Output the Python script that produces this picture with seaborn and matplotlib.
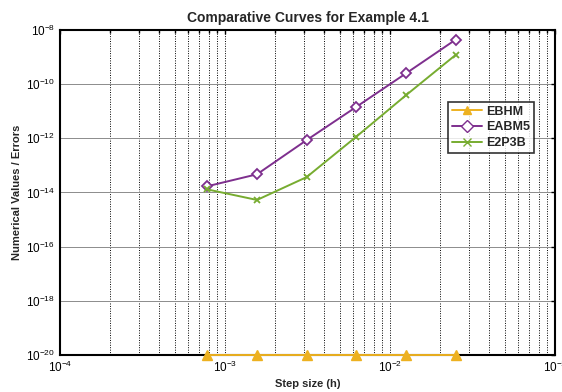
import numpy as np
import pandas as pd
import matplotlib
matplotlib.use("Agg")
import matplotlib.pyplot as plt
import seaborn as sns
from matplotlib.ticker import LogLocator, FixedLocator, NullFormatter
from matplotlib.lines import Line2D

# ---- data ----
step_sizes = [7.8125e-4, 1.5625e-3, 3.125e-3, 6.25e-3, 1.25e-2, 2.5e-2]
ebhm = [1e-20, 1e-20, 1e-20, 1e-20, 1e-20, 1e-20]
eabm5 = [1.7e-14, 4.7e-14, 8.6e-13, 1.45e-11, 2.5e-10, 4.4e-9]
e2p3b = [1.3e-14, 5.3e-15, 3.7e-14, 1.15e-12, 3.9e-11, 1.2e-9]
series_names = ["EBHM", "EABM5", "E2P3B"]
series_colors = ["#EDB120", "#7E2F8E", "#77AC30"]
series_markers = ["^", "D", "x"]
ytick_vals = [1e-20, 1e-18, 1e-16, 1e-14, 1e-12, 1e-10, 1e-8]
xtick_vals = [1e-4, 1e-3, 1e-2, 1e-1]
ytick_labels = ["$10^{-20}$", "$10^{-18}$", "$10^{-16}$", "$10^{-14}$",
                "$10^{-12}$", "$10^{-10}$", "$10^{-8}$"]
xtick_labels = ["$10^{-4}$", "$10^{-3}$", "$10^{-2}$", "$10^{-1}$"]

series_values = [ebhm, eabm5, e2p3b]

sns.set_theme(style="white")
plt.rcParams["font.family"] = ["Liberation Sans", "DejaVu Sans"]
plt.rcParams["mathtext.fontset"] = "custom"
plt.rcParams["mathtext.rm"] = "Liberation Sans"
plt.rcParams["mathtext.it"] = "Liberation Sans"

fig = plt.figure(figsize=(5.62, 3.92), dpi=100)
ax = fig.add_axes([0.1068, 0.0944, 0.8807, 0.8291])
ax.set_xscale("log")
ax.set_yscale("log")

for name, vals, c, m in zip(series_names, series_values, series_colors, series_markers):
    d = pd.DataFrame({"h": step_sizes, "err": vals})
    kw = dict(marker=m, color=c, markeredgecolor=c, linewidth=1.4,
              clip_on=False, zorder=5, ax=ax, label=name)
    if m == "D":
        kw.update(markerfacecolor="white", markersize=5, markeredgewidth=1.3)
    elif m == "^":
        kw.update(markerfacecolor=c, markersize=7, markeredgewidth=1.0)
    else:
        kw.update(markersize=5, markeredgewidth=1.3)
    sns.lineplot(data=d, x="h", y="err", **kw)

ax.set_xlim(1e-4, 1e-1)
ax.set_ylim(1e-20, 1e-8)

# grid
ax.xaxis.set_major_locator(FixedLocator(xtick_vals))
ax.xaxis.set_minor_locator(LogLocator(base=10, subs=np.arange(2, 10), numticks=20))
ax.xaxis.set_minor_formatter(NullFormatter())
ax.yaxis.set_major_locator(FixedLocator(ytick_vals))
ax.yaxis.set_minor_locator(FixedLocator([]))
ax.grid(True, axis="x", which="both", color="black", linestyle=(0, (1, 1.5)), linewidth=0.7)
ax.grid(True, axis="y", which="major", color="#8c8c8c", linestyle="-", linewidth=0.7)
ax.set_axisbelow(True)

# legend
handles = []
for n, c, m in zip(series_names, series_colors, series_markers):
    handles.append(Line2D([0], [0], color=c, marker=m, lw=1.4, markersize=6,
                          markeredgecolor=c,
                          markerfacecolor=("white" if m == "D" else c)))
leg = ax.legend(handles, series_names, loc="upper left",
                bbox_to_anchor=(448 / 562, 1 - 102 / 392),
                bbox_transform=fig.transFigure, frameon=True, fancybox=False,
                edgecolor="black", handlelength=2.4,
                borderpad=0.3, labelspacing=0.3, handletextpad=0.35,
                borderaxespad=0.0,
                prop={"weight": "bold", "size": 9})
leg.get_frame().set_linewidth(1.2)

# ticks & labels
ax.set_xticklabels(xtick_labels)
ax.set_yticklabels(ytick_labels)
ax.tick_params(axis="both", which="both", direction="in", labelsize=8.5,
               length=3, width=1, colors="black", top=True, right=True)
ax.tick_params(axis="both", which="minor", length=2)
for s in ax.spines.values():
    s.set_linewidth(1.5)
    s.set_color("black")

ax.set_title("Comparative Curves for Example 4.1", fontsize=10, fontweight="bold", pad=6)
ax.set_xlabel("Step size (h)", fontsize=8, fontweight="bold", labelpad=3)
ax.set_ylabel("Numerical Values / Errors", fontsize=8, fontweight="bold", labelpad=3)

fig.savefig("out.png", dpi=100)
